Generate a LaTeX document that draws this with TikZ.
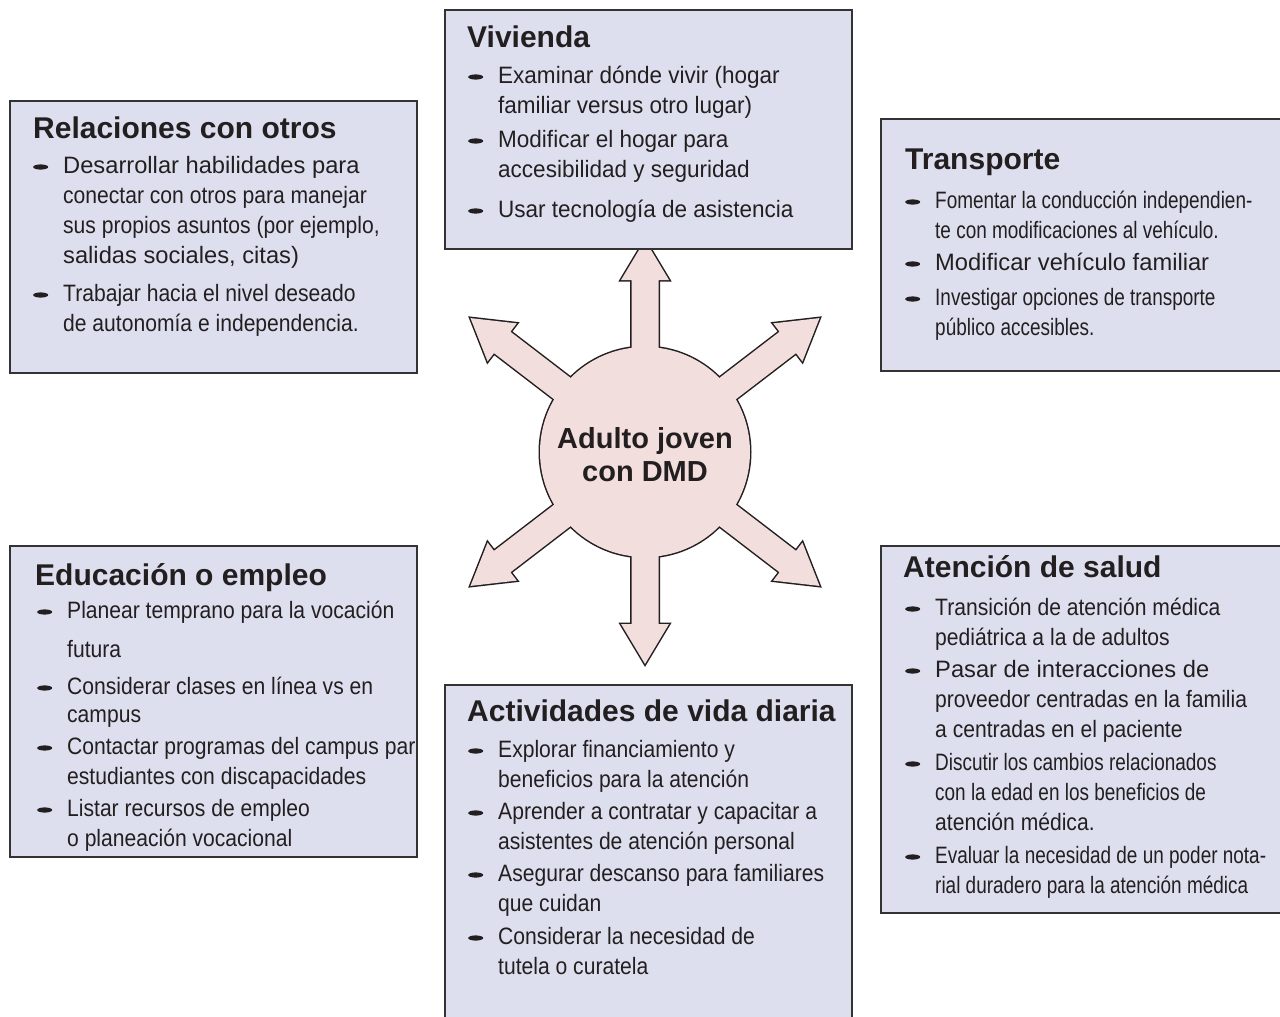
\documentclass[tikz,border=0pt]{standalone}
\usepackage{fontspec}
\setmainfont{Liberation Sans}
\newfontfamily\fN{Liberation Sans}
\newfontfamily\fW[FakeStretch=0.95]{Liberation Sans}
\newfontfamily\fM[FakeStretch=0.89]{Liberation Sans}
\newfontfamily\fC[FakeStretch=0.8]{Liberation Sans}
\definecolor{ink}{HTML}{231F20}
\definecolor{boxfill}{HTML}{DEDFEE}
\definecolor{starfill}{HTML}{F3DEDE}
\definecolor{edge}{HTML}{333333}
\newcommand{\bodysz}{\fontsize{23.7}{30}\selectfont}
% small lens-shaped bullet
\newcommand{\bul}{\makebox[30pt][l]{\tikz[baseline=-6pt]\fill[ink] (0pt,0pt) ellipse [x radius=7.5pt, y radius=2.6pt];}}

\begin{document}
\begin{tikzpicture}[x=1pt,y=-1pt,
  panel/.style={draw=edge,line width=2pt,fill=boxfill,anchor=north west,inner sep=0pt},
  boxhead/.style={anchor=base west,inner sep=0pt,text=ink,font=\bfseries\fontsize{30}{36}\selectfont},
  boxitem/.style={anchor=base west,inner sep=0pt,text=ink,font=\fM\bodysz},
  spoke/.style={fill=starfill,draw=ink,line width=3pt}]
\useasboundingbox (0,0) rectangle (1280,1017);
\coordinate (c) at (645,452);

% star: outlines first, then fills so the shapes merge
\foreach \a/\l in {90/212,270/212,37.5/220,142.5/220,217.5/220,322.5/220}{
  \begin{scope}[shift={(c)},rotate=\a]
    \draw[spoke] (0,-13.5) -- (\l-40,-13.5) -- (\l-40,-24) -- (\l,0) -- (\l-40,24) -- (\l-40,13.5) -- (0,13.5) -- cycle;
  \end{scope}
}
\draw[spoke] (c) circle (105);
\foreach \a/\l in {90/212,270/212,37.5/220,142.5/220,217.5/220,322.5/220}{
  \begin{scope}[shift={(c)},rotate=\a]
    \fill[starfill] (0,-13.5) -- (\l-40,-13.5) -- (\l-40,-24) -- (\l,0) -- (\l-40,24) -- (\l-40,13.5) -- (0,13.5) -- cycle;
  \end{scope}
}
\fill[starfill] (c) circle (105);
\node[text=ink,align=center,font=\bfseries\fontsize{29}{33}\selectfont] (hub) at (645,455) {Adulto joven\\con DMD};

% panels
\node[panel,minimum width=407pt,minimum height=239pt] (viv) at (444,9) {};
\node[panel,minimum width=407pt,minimum height=272pt] (rel) at (9,100) {};
\node[panel,minimum width=412pt,minimum height=252pt] (tra) at (880,118) {};
\node[panel,minimum width=407pt,minimum height=311pt] (edu) at (9,545) {};
\node[panel,minimum width=407pt,minimum height=345pt] (act) at (444,684) {};
\node[panel,minimum width=412pt,minimum height=367pt] (ate) at (880,545) {};

% Vivienda
\node[boxhead] (vivH) at (467,47) {Vivienda};
\node[boxitem,font=\fW\bodysz] (viv1) at (468,83) {\begin{tabular}[t]{@{}l@{}l@{}}\bul&Examinar dónde vivir (hogar\\&familiar versus otro lugar)\end{tabular}};
\node[boxitem,font=\fW\bodysz] (viv2) at (468,147) {\begin{tabular}[t]{@{}l@{}l@{}}\bul&Modificar el hogar para\\&accesibilidad y seguridad\end{tabular}};
\node[boxitem,font=\fW\bodysz] (viv3) at (468,217) {\begin{tabular}[t]{@{}l@{}l@{}}\bul&Usar tecnología de asistencia\end{tabular}};

% Relaciones con otros
\node[boxhead] (relH) at (33,138) {Relaciones con otros};
\node[boxitem] (rel1) at (33,173) {\begin{tabular}[t]{@{}l@{}l@{}}\bul&{\fN Desarrollar habilidades para}\\&conectar con otros para manejar\\&sus propios asuntos (por ejemplo,\\&{\fN salidas sociales, citas)}\end{tabular}};
\node[boxitem] (rel2) at (33,301) {\begin{tabular}[t]{@{}l@{}l@{}}\bul&Trabajar hacia el nivel deseado\\&de autonomía e independencia.\end{tabular}};

% Transporte
\node[boxhead] (traH) at (905,169) {Transporte};
\node[boxitem,font=\fC\bodysz] (tra1) at (905,208) {\begin{tabular}[t]{@{}l@{}l@{}}\bul&Fomentar la conducción independien-\\&te con modificaciones al vehículo.\end{tabular}};
\node[boxitem,font=\fN\bodysz] (tra2) at (905,270) {\begin{tabular}[t]{@{}l@{}l@{}}\bul&Modificar vehículo familiar\end{tabular}};
\node[boxitem,font=\fC\bodysz] (tra3) at (905,305) {\begin{tabular}[t]{@{}l@{}l@{}}\bul&Investigar opciones de transporte\\&público accesibles.\end{tabular}};

% Educacion o empleo
\node[boxhead] (eduH) at (35,585) {Educación o empleo};
\node[boxitem] (edu1) at (37,618) {\begin{tabular}[t]{@{}l@{}l@{}}\bul&Planear temprano para la vocación\\[9pt]&futura\end{tabular}};
\node[boxitem] (edu2) at (37,694) {\begin{tabular}[t]{@{}l@{}l@{}}\bul&Considerar clases en línea vs en\\[-2pt]&campus\end{tabular}};
\node[boxitem] (edu3) at (37,754) {\begin{tabular}[t]{@{}l@{}l@{}}\bul&Contactar programas del campus par\\&estudiantes con discapacidades\end{tabular}};
\node[boxitem] (edu4) at (37,816) {\begin{tabular}[t]{@{}l@{}l@{}}\bul&Listar recursos de empleo\\&o planeación vocacional\end{tabular}};

% Actividades de vida diaria
\node[boxhead] (actH) at (467,721) {Actividades de vida diaria};
\node[boxitem] (act1) at (468,757) {\begin{tabular}[t]{@{}l@{}l@{}}\bul&Explorar financiamiento y\\&beneficios para la atención\end{tabular}};
\node[boxitem] (act2) at (468,819) {\begin{tabular}[t]{@{}l@{}l@{}}\bul&Aprender a contratar y capacitar a\\&asistentes de atención personal\end{tabular}};
\node[boxitem] (act3) at (468,881) {\begin{tabular}[t]{@{}l@{}l@{}}\bul&Asegurar descanso para familiares\\&que cuidan\end{tabular}};
\node[boxitem] (act4) at (468,944) {\begin{tabular}[t]{@{}l@{}l@{}}\bul&Considerar la necesidad de\\&tutela o curatela\end{tabular}};

% Atencion de salud
\node[boxhead] (ateH) at (903,577) {Atención de salud};
\node[boxitem] (ate1) at (905,615) {\begin{tabular}[t]{@{}l@{}l@{}}\bul&Transición de atención médica\\&pediátrica a la de adultos\end{tabular}};
\node[boxitem] (ate2) at (905,677) {\begin{tabular}[t]{@{}l@{}l@{}}\bul&{\fN Pasar de interacciones de}\\&proveedor centradas en la familia\\&a centradas en el paciente\end{tabular}};
\node[boxitem,font=\fC\bodysz] (ate3) at (905,770) {\begin{tabular}[t]{@{}l@{}l@{}}\bul&Discutir los cambios relacionados\\&con la edad en los beneficios de\\&{\fM atención médica.}\end{tabular}};
\node[boxitem,font=\fC\bodysz] (ate4) at (905,863) {\begin{tabular}[t]{@{}l@{}l@{}}\bul&Evaluar la necesidad de un poder nota-\\&rial duradero para la atención médica\end{tabular}};
\end{tikzpicture}
\end{document}
